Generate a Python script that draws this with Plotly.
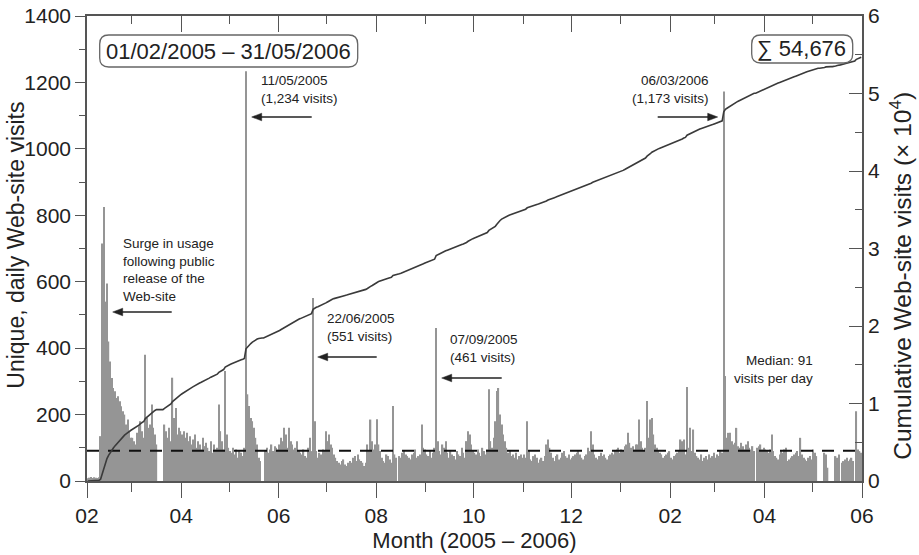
import numpy as np
import pandas as pd
import plotly.graph_objects as go

# ---------------- data (daily unique visits) ----------------
feb05 = [8, 10, 12, 9, 11, 10, 9, 11, 135, 715, 825, 540, 595, 420, 360, 310, 280, 270,
         250, 255, 240, 225, 210, 200, 170, 185, 150, 130]
mar05 = [130, 120, 110, 145, 165, 180, 150, 130, 380, 190, 160, 170, 230, 160, 140, 110,
         0, 0, 0, 0, 170, 150, 130, 160, 120, 311, 190, 220, 140, 160, 150]
apr05 = [140, 150, 130, 145, 120, 135, 110, 125, 140, 100, 120, 110, 95, 130, 105, 115,
         100, 90, 120, 85, 110, 95, 100, 230, 150, 120, 95, 331, 140, 100]
may05 = [90, 85, 100, 80, 95, 70, 90, 85, 75, 100, 1234, 261, 226, 190, 180, 160, 130,
         110, 70, 60, 0, 0, 90, 100, 85, 95, 110, 90, 105, 100, 95]
jun05 = [110, 130, 120, 160, 140, 100, 160, 120, 110, 95, 100, 120, 90, 85, 80, 95, 75,
         70, 100, 130, 90, 551, 180, 90, 70, 85, 80, 95, 90, 150]
jul05 = [120, 140, 110, 100, 80, 70, 60, 55, 50, 60, 65, 50, 45, 55, 60, 55, 70, 75,
         60, 80, 65, 60, 55, 45, 55, 110, 90, 185, 120, 95, 110]
aug05 = [186, 110, 90, 70, 60, 55, 80, 75, 65, 55, 226, 80, 70, 0, 75, 70, 85, 90, 80,
         75, 70, 65, 80, 85, 95, 70, 75, 80, 170, 100, 95]
sep05 = [80, 75, 90, 70, 85, 100, 461, 120, 90, 80, 110, 100, 120, 85, 70, 90, 80, 75,
         65, 90, 80, 75, 100, 85, 70, 120, 150, 140, 110, 90]
oct05 = [85, 80, 95, 85, 75, 100, 90, 80, 95, 276, 120, 100, 130, 180, 271, 280, 200,
         170, 140, 120, 100, 85, 90, 75, 80, 70, 85, 65, 75, 80, 70]
nov05 = [80, 70, 180, 90, 65, 60, 75, 80, 70, 55, 65, 70, 60, 75, 110, 125, 100, 85, 70,
         60, 75, 80, 65, 70, 85, 90, 75, 70, 80, 65]
dec05 = [70, 75, 80, 85, 90, 80, 70, 65, 75, 80, 100, 90, 150, 110, 80, 70, 65, 75, 85,
         75, 80, 70, 65, 75, 80, 85, 80, 90, 95, 100, 85]
jan06 = [95, 90, 105, 110, 145, 115, 100, 105, 95, 110, 110, 185, 120, 100, 90, 100, 241,
         130, 185, 190, 140, 110, 100, 90, 85, 80, 70, 75, 80, 85, 90]
feb06 = [70, 65, 75, 80, 85, 90, 125, 120, 125, 80, 283, 100, 160, 90, 155, 85, 75, 70,
         65, 80, 60, 70, 75, 65, 80, 70, 75, 85]
mar06 = [70, 80, 75, 90, 85, 1173, 316, 130, 145, 145, 120, 110, 115, 160, 105, 100, 115,
         105, 95, 110, 120, 100, 95, 105, 90, 0, 100, 105, 110, 95, 100]
apr06 = [95, 90, 85, 95, 140, 90, 75, 70, 65, 80, 90, 85, 95, 100, 60, 65, 70, 75, 80, 85,
         90, 75, 130, 80, 70, 65, 60, 70, 75, 65]
may06 = [95, 85, 75, 0, 0, 0, 0, 85, 80, 40, 0, 0, 0, 0, 75, 70, 80, 0, 55, 60, 65, 70,
         60, 65, 70, 60, 0, 210, 95, 90, 85]

MEDIAN = 91
START_DATE = "2005-02-01"
END_DATE = "2006-06-01"

daily = np.concatenate([feb05, mar05, apr05, may05, jun05, jul05, aug05, sep05, oct05,
                        nov05, dec05, jan06, feb06, mar06, apr06, may06])
dates = pd.date_range(START_DATE + " 12:00", periods=len(daily), freq="D")
cumulative = np.cumsum(daily) / 1e4

# ---------------- layout helpers (pixel -> paper) ----------------
W, H = 919, 555
L, R, T, B = 87.3, 862.3, 16, 481


def P(px, py):
    return (px - L) / (R - L), (B - py) / (B - T)


def rrect(x0, y0, x1, y1, r):
    rx = r / (R - L)
    ry = r / (B - T)
    a, b = P(x0, y0)
    c, d = P(x1, y1)
    return (f"M{a+rx},{b} L{c-rx},{b} Q{c},{b} {c},{b-ry} L{c},{d+ry} Q{c},{d} {c-rx},{d} "
            f"L{a+rx},{d} Q{a},{d} {a},{d+ry} L{a},{b-ry} Q{a},{b} {a+rx},{b} Z")


FONT = "Liberation Sans, Arial, sans-serif"
AX = "#555555"
INK = "#222222"

fig = go.Figure()
fig.add_trace(go.Bar(x=dates, y=daily, marker=dict(color="#959595", line=dict(width=0)),
                     hoverinfo="skip", showlegend=False))
fig.add_trace(go.Scatter(x=[pd.Timestamp(START_DATE), pd.Timestamp(END_DATE)],
                         y=[MEDIAN, MEDIAN], mode="lines",
                         line=dict(color="#111111", width=2, dash="12px,9px"),
                         hoverinfo="skip", showlegend=False))
fig.add_trace(go.Scatter(x=dates, y=cumulative, yaxis="y2", mode="lines",
                         line=dict(color="#3a3a3a", width=1.6),
                         hoverinfo="skip", showlegend=False))
fig.add_trace(go.Scatter(x=[dates[0]], y=[0], xaxis="x2", mode="markers",
                         marker=dict(opacity=0), hoverinfo="skip", showlegend=False))

tickfont = dict(family=FONT, size=21, color=INK)

fig.update_layout(
    width=W, height=H,
    margin=dict(l=L, r=W - R, t=T, b=H - B, autoexpand=False),
    paper_bgcolor="white", plot_bgcolor="white",
    bargap=0.18,
    showlegend=False,
    font=dict(family=FONT, color=INK),
    xaxis=dict(type="date", range=[START_DATE, END_DATE], dtick="M2", tick0=START_DATE,
               tickformat="%m", ticks="outside", ticklen=15, tickwidth=1.3, tickcolor=AX,
               minor=dict(dtick="M1", ticks="outside", ticklen=9, tickwidth=1.3, tickcolor=AX),
               showline=True, linecolor=AX, linewidth=1.5, showgrid=False, zeroline=False,
               tickfont=tickfont, automargin=False,
               title=dict(text="Month (2005 – 2006)", font=dict(family=FONT, size=22, color=INK),
                          standoff=7)),
    xaxis2=dict(type="date", overlaying="x", side="top", range=[START_DATE, END_DATE],
                dtick="M2", tick0=START_DATE, ticks="inside", ticklen=16, tickwidth=1.3,
                tickcolor=AX, automargin=False,
                minor=dict(dtick="M1", ticks="inside", ticklen=8, tickwidth=1.3, tickcolor=AX),
                showticklabels=False, showline=True, linecolor=AX, linewidth=1.5,
                showgrid=False, zeroline=False),
    yaxis=dict(range=[0, 1400], dtick=200, ticks="outside", ticklen=10, tickwidth=1.3,
               tickcolor=AX, automargin=False,
               minor=dict(dtick=100, ticks="outside", ticklen=6, tickwidth=1.3, tickcolor=AX),
               showline=True, linecolor=AX, linewidth=1.5, showgrid=False, zeroline=False,
               tickfont=tickfont),
    yaxis2=dict(range=[0, 6], dtick=1, overlaying="y", side="right", ticks="inside",
                ticklen=13, tickwidth=1.3, tickcolor=AX, automargin=False,
                minor=dict(dtick=0.5, ticks="inside", ticklen=7, tickwidth=1.3, tickcolor=AX),
                showline=True, linecolor=AX, linewidth=1.5, showgrid=False, zeroline=False,
                tickfont=tickfont),
)

# axis titles (rotated) as annotations for exact placement
for (px, py, s, size) in [(16, 245, "Unique, daily Web-site visits", 23),
                          (900, 276, "Cumulative Web-site visits (× 10<sup>4</sup>)", 24.5)]:
    x, y = P(px, py)
    fig.add_annotation(x=x, y=y, xref="paper", yref="paper", text=s, showarrow=False,
                       textangle=-90, xanchor="center", yanchor="middle",
                       font=dict(family=FONT, size=size, color=INK))

# rounded boxes
fig.add_shape(type="path", xref="paper", yref="paper", path=rrect(100, 35, 358, 67, 9),
              line=dict(color="#666666", width=1.3), fillcolor="rgba(0,0,0,0)")
fig.add_shape(type="path", xref="paper", yref="paper", path=rrect(752, 35, 853, 63, 9),
              line=dict(color="#666666", width=1.3), fillcolor="rgba(0,0,0,0)")

SMALL = dict(family=FONT, size=13.5, color=INK)
BIG = dict(family=FONT, size=22, color=INK)


def text(px, py, s, font, xanchor="left", align="left"):
    x, y = P(px, py)
    fig.add_annotation(x=x, y=y, xref="paper", yref="paper", text=s, showarrow=False,
                       xanchor=xanchor, yanchor="middle", align=align, font=font)


def arrow(hx, hy, dx):
    # horizontal arrow, head at (hx, hy), tail at hx + dx (pixels)
    sgn = 1 if dx > 0 else -1
    hl, hw = 10, 3.8
    x0, y0 = P(hx + dx, hy)
    x1, y1 = P(hx + sgn * (hl - 1), hy)
    fig.add_shape(type="line", xref="paper", yref="paper", x0=x0, y0=y0, x1=x1, y1=y1,
                  line=dict(color=INK, width=1.7))
    a = P(hx, hy)
    b = P(hx + sgn * hl, hy - hw)
    c = P(hx + sgn * hl, hy + hw)
    fig.add_shape(type="path", xref="paper", yref="paper",
                  path=f"M{a[0]},{a[1]} L{b[0]},{b[1]} L{c[0]},{c[1]} Z",
                  fillcolor=INK, line=dict(color=INK, width=0.5))


text(229, 51, "01/02/2005 – 31/05/2006", BIG, xanchor="center", align="center")
text(802, 49, "∑ 54,676", BIG, xanchor="center", align="center")

text(259, 89, "11/05/2005<br>(1,234 visits)", SMALL)
arrow(252, 117, 60)
text(325, 328, "22/06/2005<br>(551 visits)", SMALL)
arrow(318, 357, 59)
text(448, 348, "07/09/2005<br>(461 visits)", SMALL)
arrow(442, 378, 60)
text(711, 89, "06/03/2006<br>(1,173 visits)", SMALL, xanchor="right", align="right")
arrow(718, 117, -60)
text(121.5, 270, "Surge in usage<br>following public<br>release of the<br>Web-site", SMALL)
arrow(113, 312, 59)
text(815, 369, "Median: 91<br>visits per day", SMALL, xanchor="right", align="right")

fig.write_html("out.html", config={"displayModeBar": False},
               post_script="document.body.style.margin='0';document.body.style.padding='0';")
